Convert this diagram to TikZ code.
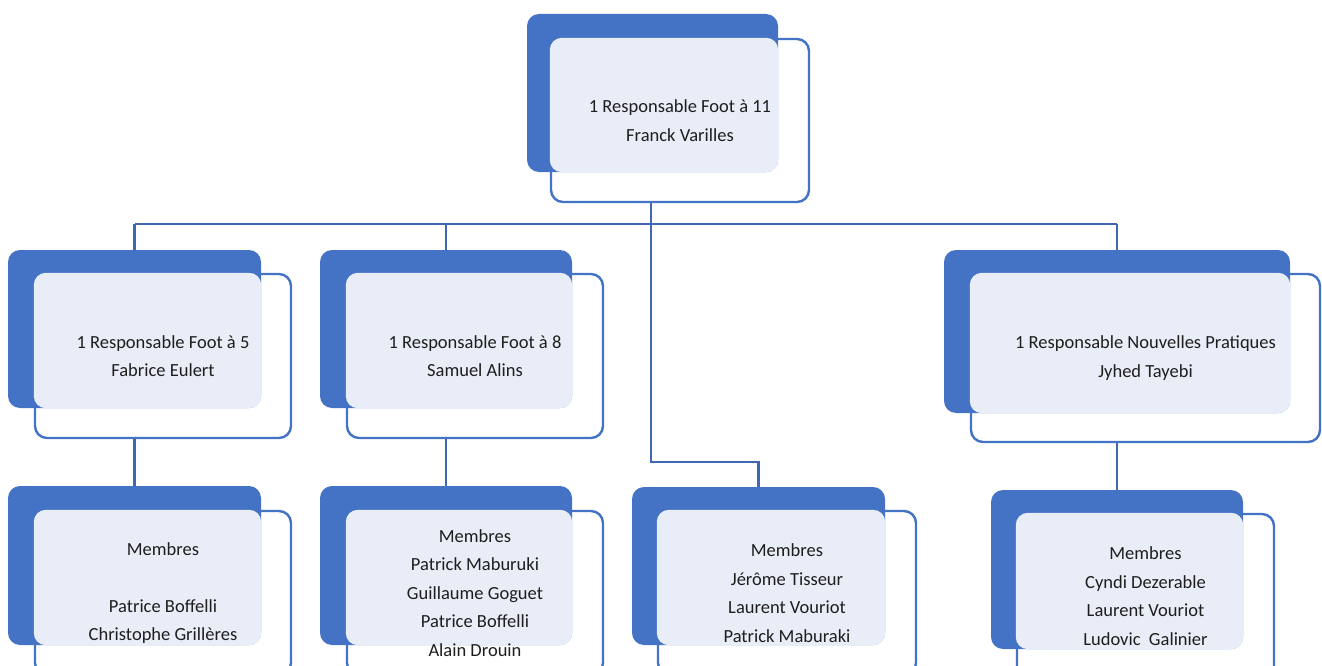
\documentclass[tikz,border=0pt]{standalone}
\usepackage{fontspec}
\setmainfont{Carlito}
\definecolor{blueA}{HTML}{4472C4}
\definecolor{lineA}{HTML}{3F67B2}
\definecolor{liteA}{HTML}{E9EDF7}
\definecolor{txtA}{HTML}{1E1E1E}
\tikzset{
  outl/.style={draw=blueA, line width=2.4pt, fill=white, rounded corners=12pt, inner sep=0pt},
  blk/.style={fill=blueA, draw=none, rounded corners=12pt, inner sep=0pt},
  lite/.style={fill=liteA, rounded corners=12pt},
  txt/.style={align=center, text=txtA, inner sep=0pt, font=\fontsize{18.5}{28.5}\selectfont},
  conn/.style={draw=lineA, line width=2.4pt},
}
\begin{document}
\begin{tikzpicture}[x=1pt,y=-1pt]
\useasboundingbox (0,0) rectangle (1322,666);
% node positions (boxes)
\coordinate (bus) at (651,224);
\coordinate (elbow) at (651,462);
% ---- connectors (drawn first, behind boxes)
\path (652.5,93) coordinate (topc);
\draw[conn] (651,120) -- (elbow) -- (758.5,462) -- (758.5,500);
\draw[conn] (134.5,224) -- (1117,224);
\draw[conn] (134.5,224) -- (134.5,300);
\draw[conn] (446,224) -- (446,300);
\draw[conn] (1117,224) -- (1117,300);
\draw[conn] (134.5,400) -- (134.5,500);
\draw[conn] (446,400) -- (446,500);
\draw[conn] (1117,400) -- (1117,500);
% ---- top unit
\node[outl, minimum width=258, minimum height=163] (top) at (680,120.5) {};
\node[blk, minimum width=251, minimum height=158] (topb) at (652.5,93) {};
\fill[lite] (top.north west) rectangle (topb.south east);
\node[txt] (toptxt) at (top.center) {1 Responsable Foot à 11\\Franck Varilles};
% ---- A
\node[outl, minimum width=256, minimum height=164] (a) at (163,356) {};
\node[blk, minimum width=253, minimum height=158] (ab) at (134.5,329) {};
\fill[lite] (a.north west) rectangle (ab.south east);
\node[txt] (atxt) at (a.center) {1 Responsable Foot à 5\\Fabrice Eulert};
% ---- B
\node[outl, minimum width=256, minimum height=164] (b) at (475,356) {};
\node[blk, minimum width=252, minimum height=158] (bb) at (446,329) {};
\fill[lite] (b.north west) rectangle (bb.south east);
\node[txt] (btxt) at (b.center) {1 Responsable Foot à 8\\Samuel Alins};
% ---- D
\node[outl, minimum width=349, minimum height=168] (d) at (1145.5,358) {};
\node[blk, minimum width=346, minimum height=163] (db) at (1117,331.5) {};
\fill[lite] (d.north west) rectangle (db.south east);
\node[txt] (dtxt) at (d.center) {1 Responsable Nouvelles Pratiques\\Jyhed Tayebi};
% ---- A'
\node[outl, minimum width=256, minimum height=164] (ap) at (163,593) {};
\node[blk, minimum width=253, minimum height=159] (apb) at (134.5,565.5) {};
\fill[lite] (ap.north west) rectangle (apb.south east);
\node[txt] (aptxt) at (ap.center) {Membres\\\mbox{}\\Patrice Boffelli\\Christophe Grillères};
% ---- B'
\node[outl, minimum width=256, minimum height=164] (bp) at (475,593) {};
\node[blk, minimum width=252, minimum height=159] (bpb) at (446,565.5) {};
\fill[lite] (bp.north west) rectangle (bpb.south east);
\node[txt] (bptxt) at (bp.center) {Membres\\Patrick Maburuki\\Guillaume Goguet\\Patrice Boffelli\\Alain Drouin};
% ---- C'
\node[outl, minimum width=258, minimum height=164] (cp) at (787,593) {};
\node[blk, minimum width=253, minimum height=158] (cpb) at (758.5,566) {};
\fill[lite] (cp.north west) rectangle (cpb.south east);
\node[txt] (cptxt) at (cp.center) {Membres\\Jérôme Tisseur\\Laurent Vouriot\\Patrick Maburaki};
% ---- D'
\node[outl, minimum width=257, minimum height=164] (dp) at (1145.5,596) {};
\node[blk, minimum width=252, minimum height=159] (dpb) at (1117,569.5) {};
\fill[lite] (dp.north west) rectangle (dpb.south east);
\node[txt] (dptxt) at (dp.center) {Membres\\Cyndi Dezerable\\Laurent Vouriot\\Ludovic\ \ Galinier};
\end{tikzpicture}
\end{document}
